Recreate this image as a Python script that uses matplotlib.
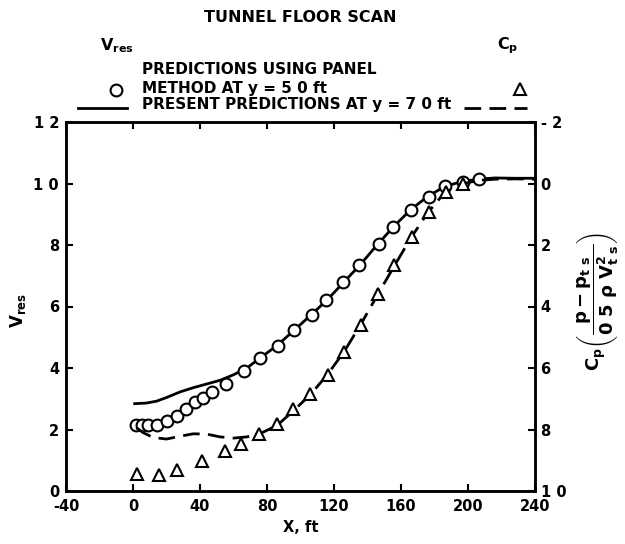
import matplotlib
matplotlib.use('Agg')
import matplotlib.pyplot as plt
from matplotlib.lines import Line2D

plt.rcParams['font.family'] = ['DejaVu Sans']
plt.rcParams['font.weight'] = 'bold'
plt.rcParams['axes.labelweight'] = 'bold'
plt.rcParams['mathtext.fontset'] = 'custom'
plt.rcParams['mathtext.rm'] = 'DejaVu Sans:bold'
plt.rcParams['mathtext.bf'] = 'DejaVu Sans:bold'
plt.rcParams['mathtext.it'] = 'DejaVu Sans:bold:italic'
plt.rcParams['mathtext.default'] = 'rm'

# panel method, V_res (circles)
x_panel_v = [1.7, 5.1, 9, 14.4, 20, 26.5, 31.5, 36.8, 41.8, 47.4, 55.3, 66.2, 76, 86.5,
             96.2, 106.7, 115.3, 125.6, 135, 146.6, 155, 165.9, 176.8, 186, 197, 206.6]
v_panel = [2.14, 2.14, 2.14, 2.15, 2.28, 2.45, 2.66, 2.88, 3.04, 3.21, 3.48, 3.89, 4.33, 4.73,
           5.23, 5.71, 6.2, 6.79, 7.34, 8.04, 8.59, 9.13, 9.56, 9.91, 10.05, 10.16]

# panel method, Cp (triangles)
x_panel_cp = [2.5, 15.6, 26.5, 41.4, 54.7, 64.6, 75.5, 86, 95.4, 105.7, 116.2, 126.2, 136.1,
              146, 155.9, 166.8, 176.8, 186.7, 197.2]
cp_panel = [9.44, 9.48, 9.32, 9.02, 8.70, 8.48, 8.15, 7.81, 7.34, 6.85, 6.22, 5.49, 4.59,
            3.59, 2.66, 1.74, 0.93, 0.27, 0.02]

# present predictions, V_res (solid)
x_pres = [1, 8, 14, 20, 28, 36, 44, 52, 60, 68, 76, 86, 96, 106, 116, 126, 136, 146, 156,
          166, 176, 186, 196, 206, 216, 228, 240]
v_pres = [2.84, 2.86, 2.92, 3.04, 3.22, 3.36, 3.48, 3.60, 3.78, 4.00, 4.33, 4.73, 5.22, 5.71,
          6.22, 6.80, 7.38, 8.02, 8.62, 9.16, 9.58, 9.90, 10.06, 10.14, 10.18, 10.17, 10.17]

# present predictions, Cp (dashed)
x_pres_cp = [2, 6, 12, 20, 28, 36, 44, 52, 60, 68, 76, 86, 96, 106, 116, 126, 136, 146, 156,
             166, 176, 186, 196, 206, 216, 228, 240]
cp_pres = [7.94, 8.10, 8.26, 8.31, 8.22, 8.14, 8.15, 8.24, 8.28, 8.24, 8.13, 7.87, 7.38, 6.86,
           6.22, 5.47, 4.58, 3.62, 2.68, 1.76, 0.95, 0.30, 0.02, -0.10, -0.14, -0.15, -0.14]

xticks = [-40, 0, 40, 80, 120, 160, 200, 240]
vticks = [0, 2, 4, 6, 8, 10, 12]
vlabels = ['0', '2', '4', '6', '8', '1 0', '1 2']
cpticks = [-2, 0, 2, 4, 6, 8, 10]
cplabels = ['- 2', '0', '2', '4', '6', '8', '1 0']

W, H = 625, 544
fig = plt.figure(figsize=(W / 100, H / 100), dpi=100)
ax = fig.add_axes([66 / W, 1 - 491 / H, 469 / W, 369 / H])
ax2 = ax.twinx()

ax.plot(x_pres, v_pres, color='black', lw=2.0, zorder=2)
ax2.plot(x_pres_cp, cp_pres, color='black', lw=2.0, dashes=(6, 3), zorder=2)
ax.plot(x_panel_v, v_panel, ls='none', marker='o', ms=8.5, mfc='white', mec='black',
        mew=1.5, zorder=3)
ax2.plot(x_panel_cp, cp_panel, ls='none', marker='^', ms=9, mfc='white', mec='black',
         mew=1.5, zorder=3)

ax.set_xlim(-40, 240)
ax.set_ylim(0, 12)
ax2.set_ylim(10, -2)
ax.set_xticks(xticks)
ax.set_xticklabels([str(t) for t in xticks])
ax.set_yticks(vticks)
ax.set_yticklabels(vlabels)
ax2.set_yticks(cpticks)
ax2.set_yticklabels(cplabels)

for a in (ax, ax2):
    for s in a.spines.values():
        s.set_linewidth(1.8)
ax.tick_params(axis='both', direction='in', length=5, width=1.5, top=True,
               labelsize=10.5)
ax.tick_params(axis='x', pad=6)
ax.tick_params(axis='y', pad=5)
ax2.tick_params(axis='y', direction='in', length=5, width=1.5, labelsize=10.5, pad=4)

ax.set_xlabel('X, ft', fontsize=10.5, labelpad=4)
fig.text(18 / W, 1 - 310 / H, r'V$_{\mathrm{res}}$', rotation=90, fontsize=12,
         ha='center', va='center')
fig.text(597 / W, 1 - 302 / H,
         r'$\mathrm{C_p}\left(\dfrac{\mathrm{p - p_{t\ s}}}{\mathrm{0\ 5}\ \rho\ \mathrm{V^2_{t\ s}}}\right)$',
         rotation=90, fontsize=13, ha='center', va='center')

# header and key
fig.text(300 / W, 1 - 17 / H, 'TUNNEL FLOOR SCAN', fontsize=11.5, ha='center', va='center')
fig.text(100 / W, 1 - 46 / H, r'V$_{\mathrm{res}}$', fontsize=11.5, ha='left', va='center')
fig.text(497 / W, 1 - 46 / H, r'C$_{\mathrm{p}}$', fontsize=11.5, ha='left', va='center')
fig.text(142 / W, 1 - 70 / H, 'PREDICTIONS USING PANEL', fontsize=11, ha='left', va='center')
fig.text(142 / W, 1 - 88 / H, 'METHOD AT y = 5 0 ft', fontsize=11, ha='left', va='center')
fig.text(142 / W, 1 - 105 / H, 'PRESENT PREDICTIONS AT y = 7 0 ft', fontsize=11,
         ha='left', va='center')
fig.add_artist(Line2D([116 / W], [1 - 90 / H], transform=fig.transFigure, ls='none',
                      marker='o', ms=8.5, mfc='white', mec='black', mew=1.5))
fig.add_artist(Line2D([520 / W], [1 - 89 / H], transform=fig.transFigure, ls='none',
                      marker='^', ms=9, mfc='white', mec='black', mew=1.5))
fig.add_artist(Line2D([78 / W, 127 / W], [1 - 108 / H, 1 - 108 / H],
                      transform=fig.transFigure, color='black', lw=2.0))
fig.add_artist(Line2D([464 / W, 527 / W], [1 - 108 / H, 1 - 108 / H],
                      transform=fig.transFigure, color='black', lw=2.0, dashes=(6, 3)))

fig.savefig('out.png', dpi=100)
